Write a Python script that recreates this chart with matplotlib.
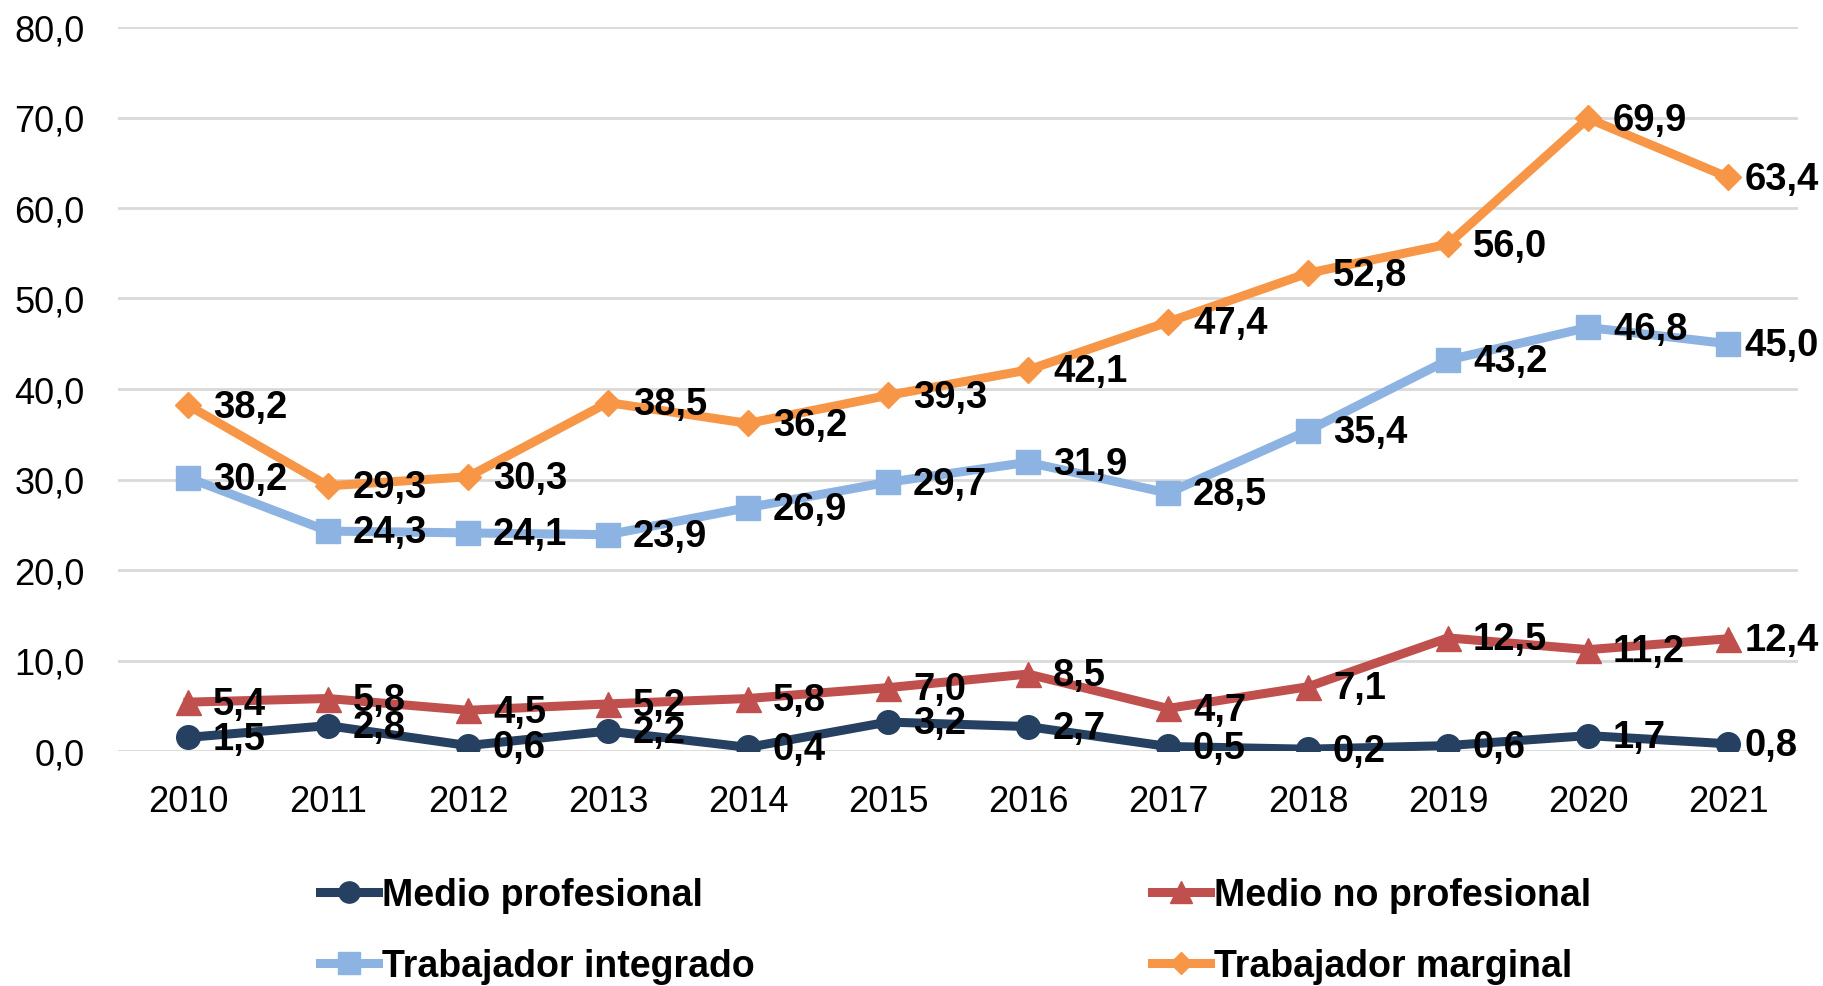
import numpy as np
import matplotlib
matplotlib.use("Agg")
import matplotlib.pyplot as plt

plt.rcParams['font.family'] = ['Liberation Sans', 'DejaVu Sans']

years = ['2010', '2011', '2012', '2013', '2014', '2015',
         '2016', '2017', '2018', '2019', '2020', '2021']
medio_profesional = [1.5, 2.8, 0.6, 2.2, 0.4, 3.2, 2.7, 0.5, 0.2, 0.6, 1.7, 0.8]
medio_no_profesional = [5.4, 5.8, 4.5, 5.2, 5.8, 7.0, 8.5, 4.7, 7.1, 12.5, 11.2, 12.4]
trabajador_integrado = [30.2, 24.3, 24.1, 23.9, 26.9, 29.7, 31.9, 28.5, 35.4, 43.2, 46.8, 45.0]
trabajador_marginal = [38.2, 29.3, 30.3, 38.5, 36.2, 39.3, 42.1, 47.4, 52.8, 56.0, 69.9, 63.4]

series = [
    ('Medio profesional', medio_profesional, '#254061', 'o', 17),
    ('Medio no profesional', medio_no_profesional, '#C0504D', '^', 18),
    ('Trabajador integrado', trabajador_integrado, '#8DB3E2', 's', 17),
    ('Trabajador marginal', trabajador_marginal, '#F79646', 'D', 13),
]

fig = plt.figure(figsize=(18.23, 9.87), dpi=100)
ax = fig.add_axes([118 / 1823, 1 - 752 / 987, (1798 - 118) / 1823, (752 - 28) / 987])

x = np.arange(len(years))
lines = {}
for name, vals, color, marker, ms in series:
    ln, = ax.plot(x, vals, color=color, lw=6.5, marker=marker, markersize=ms,
                  label=name, zorder=3)
    lines[name] = ln
    # data labels to the right of each point (last one pulled in to fit)
    for xi, v in zip(x, vals):
        dx = 12 if xi == len(years) - 1 else 18
        ax.annotate(f'{v:.1f}'.replace('.', ','), (xi, v), xytext=(dx, -1),
                    textcoords='offset points', ha='left', va='center',
                    fontsize=27.5, fontweight='bold', color='black', zorder=4)

ax.set_xlim(-0.5, len(years) - 0.5)
ax.set_ylim(0, 80)
ax.set_xticks(x)
ax.set_xticklabels(years)
ax.set_yticks(np.arange(0, 81, 10))
ax.yaxis.set_major_formatter(lambda v, pos: f'{v:.1f}'.replace('.', ','))
ax.tick_params(axis='both', length=0, labelsize=26, pad=24)
ax.grid(axis='y', color='#D9D9D9', lw=2)
ax.set_axisbelow(True)
for s in ax.spines.values():
    s.set_visible(False)

order = ['Medio profesional', 'Trabajador integrado',
         'Medio no profesional', 'Trabajador marginal']
leg = fig.legend([lines[n] for n in order], order, ncol=2, loc='upper left',
                 bbox_to_anchor=(320 / 1823, 1 - 878 / 987), frameon=False,
                 prop={'size': 27, 'weight': 'bold'}, handlelength=1.55,
                 handletextpad=0.1, columnspacing=10.6, labelspacing=0.93,
                 borderpad=0, borderaxespad=0, markerscale=0.9)

fig.savefig('out.png', dpi=100, facecolor='white')
